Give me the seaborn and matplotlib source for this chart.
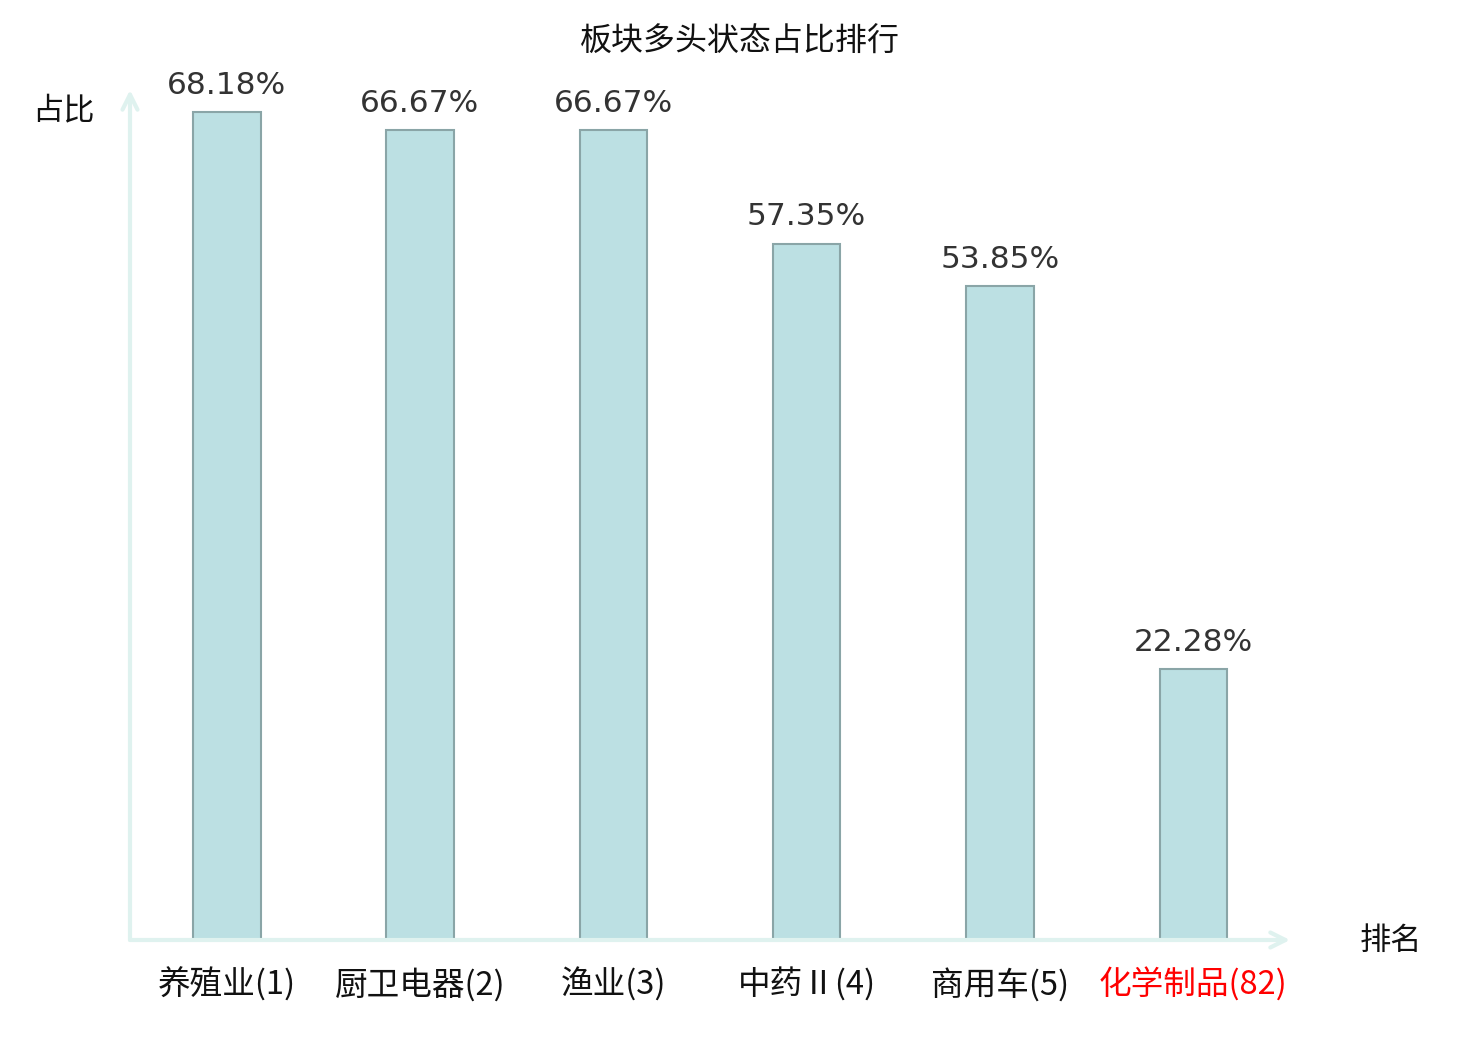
import numpy as np
import pandas as pd
import seaborn as sns
import matplotlib
matplotlib.use("Agg")
import matplotlib.pyplot as plt

# data
sectors = ['养殖业(1)', '厨卫电器(2)', '渔业(3)', '中药Ⅱ(4)', '商用车(5)', '化学制品(82)']
shares = [68.18, 66.67, 66.67, 57.35, 53.85, 22.28]
highlight = [False, False, False, False, False, True]

sns.set_theme(style='white')
plt.rcParams['font.family'] = ['Noto Sans CJK SC', 'DejaVu Sans']

df = pd.DataFrame({'sector': sectors, 'share': shares})

fig = plt.figure(figsize=(14.8, 10.4), dpi=100)
ax = fig.add_axes([130 / 1480, 1 - 940 / 1040, 1160 / 1480, 850 / 1040])

sns.barplot(data=df, x='sector', y='share', color='#bce0e3', saturation=1,
            edgecolor='#8aa5a7', linewidth=1.5, width=0.35, ax=ax)

ax.set_xlim(-0.5, 5.5)
ax.set_ylim(0, 70)
for s in ax.spines.values():
    s.set_visible(False)
ax.set_yticks([])
ax.set_xlabel('')
ax.set_ylabel('')
ax.tick_params(axis='x', length=0, pad=20)
ax.set_xticks(range(len(sectors)))
ax.set_xticklabels(sectors, fontsize=23.5, fontweight='light')
for lbl, hl in zip(ax.get_xticklabels(), highlight):
    lbl.set_color('red' if hl else '#111111')

# value labels
for i, v in enumerate(shares):
    ax.text(i, v + 1.0, f'{v:.2f}%', ha='center', va='bottom', fontsize=22.5,
            color='#333333', family='DejaVu Sans')

# arrow axes
axis_col = '#dff2ef'
ax.annotate('', xy=(1.0, 0), xytext=(0, 0), xycoords='axes fraction',
            arrowprops=dict(arrowstyle='->,head_length=0.9,head_width=0.45',
                            color=axis_col, lw=3, shrinkA=0, shrinkB=0),
            annotation_clip=False)
ax.annotate('', xy=(0, 1.0), xytext=(0, 0), xycoords='axes fraction',
            arrowprops=dict(arrowstyle='->,head_length=0.9,head_width=0.45',
                            color=axis_col, lw=3, shrinkA=0, shrinkB=0),
            annotation_clip=False)

fig.text(63 / 1480, 1 - 110 / 1040, '占比', ha='center', va='center', fontsize=22.5, color='#111111')
fig.text(1391 / 1480, 1 - 941 / 1040, '排名', ha='center', va='center', fontsize=22.5, color='#111111')
fig.text(740 / 1480, 1 - 42 / 1040, '板块多头状态占比排行', ha='center', va='center',
         fontsize=23, color='#111111')

fig.savefig('out.png', dpi=100, facecolor='white')
